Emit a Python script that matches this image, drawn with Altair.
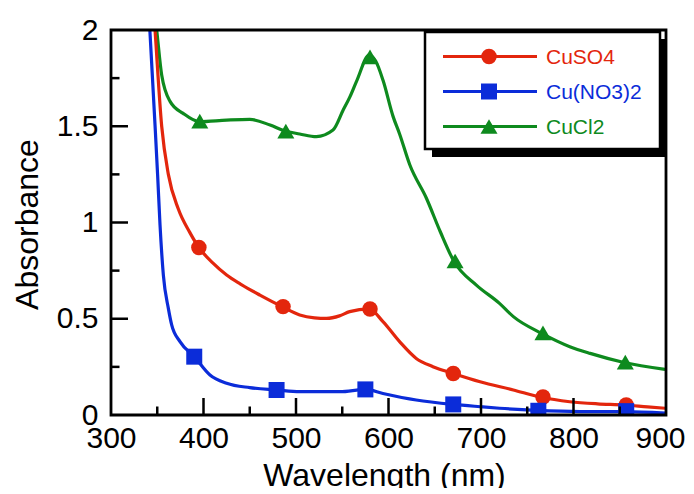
import altair as alt
import pandas as pd

# ---------------- data ----------------
series_names = ["CuSO4", "Cu(NO3)2", "CuCl2"]
series_colors = ["#E3260D", "#0B2CD9", "#0E8A1E"]
series_shapes = ["circle", "square", "triangle-up"]
series_sizes = [240, 256, 290]

# continuous spectra (wavelength nm, absorbance)
cuso4_wl = [345, 347.6, 354.8, 362, 372.8, 385, 395, 410, 425, 440, 461, 485, 504, 520,
            533, 547, 558, 579, 594, 612, 630, 648, 670, 699, 735, 765, 796, 826, 855, 880, 899]
cuso4_ab = [2.18, 2.0, 1.5, 1.25, 1.07, 0.95, 0.87, 0.79, 0.727, 0.68, 0.623, 0.563, 0.52, 0.505,
            0.502, 0.515, 0.537, 0.551, 0.485, 0.381, 0.294, 0.251, 0.216, 0.173, 0.13, 0.092,
            0.069, 0.058, 0.052, 0.042, 0.035]

no3_wl = [340, 342, 347.6, 350.4, 353, 356.6, 362, 365.6, 374.6, 390, 407, 425, 450, 479, 504,
          547.6, 575, 594, 630, 670, 699, 720, 760, 807, 855, 899]
no3_ab = [2.18, 2.0, 1.506, 1.247, 0.987, 0.727, 0.554, 0.468, 0.381, 0.303, 0.208, 0.165, 0.142,
          0.13, 0.121, 0.121, 0.133, 0.112, 0.078, 0.055, 0.043, 0.035, 0.024, 0.018, 0.018, 0.01]

cucl2_wl = [347, 349.4, 354.8, 364, 378, 395.5, 425, 450, 472, 488, 504, 522, 540, 551, 558,
            566, 579, 586, 594, 605, 612, 623, 641, 656, 671, 695, 720, 735, 765.6, 796, 818,
            854.6, 899]
cucl2_ab = [2.1, 2.0, 1.766, 1.628, 1.567, 1.524, 1.532, 1.536, 1.506, 1.475, 1.46, 1.446, 1.48,
            1.584, 1.65, 1.74, 1.87, 1.84, 1.74, 1.55, 1.46, 1.30, 1.126, 0.952, 0.796, 0.675,
            0.58, 0.511, 0.424, 0.355, 0.32, 0.273, 0.237]

# markers
cuso4_mk_wl = [395, 486, 580, 670, 767, 857]
cuso4_mk_ab = [0.87, 0.563, 0.551, 0.216, 0.094, 0.052]
no3_mk_wl = [390, 479, 575, 670, 762, 857]
no3_mk_ab = [0.303, 0.13, 0.133, 0.055, 0.022, 0.02]
cucl2_mk_wl = [396, 489, 580, 672, 767, 856]
cucl2_mk_ab = [1.527, 1.475, 1.86, 0.80, 0.426, 0.275]

x_major = [400, 500, 600, 700, 800]
x_minor = [350, 450, 550, 650, 750, 850]
y_major = [0.5, 1.0, 1.5]
y_minor = [0.25, 0.75, 1.25, 1.75]
x_labels = [300, 400, 500, 600, 700, 800, 900]
y_labels = [0, 0.5, 1, 1.5, 2]

# ---------------- chart ----------------
W, H = 555, 385
FONT = "Liberation Sans"

xscale = alt.Scale(domain=[300, 900], nice=False, zero=False)
yscale = alt.Scale(domain=[0, 2], nice=False, zero=False)

xaxis = alt.Axis(values=x_labels, format="d", ticks=False, grid=False, domain=False,
                 labelFontSize=30, labelColor="black", labelPadding=8, labelFlush=False,
                 labelOverlap=False, labelFont=FONT,
                 labelOffset={"condition": {"test": "datum.value == 900", "value": -6}, "value": 0},
                 title="Wavelength (nm)", titleFontSize=32, titleFontWeight="normal",
                 titleColor="black", titleFont=FONT, titleX=273, titleY=45,
                 titleBaseline="top", titleAlign="center")
yaxis = alt.Axis(values=y_labels, format="~g", ticks=False, grid=False, domain=False,
                 labelFontSize=30, labelColor="black", labelPadding=13, labelFlush=False,
                 labelOverlap=False, labelFont=FONT,
                 title="Absorbance", titleFontSize=32, titleFontWeight="normal",
                 titleColor="black", titleFont=FONT, titleAngle=270, titleX=-74, titleY=194,
                 titleBaseline="alphabetic", titleAlign="center")

X = lambda: alt.X("wl:Q", scale=xscale, axis=xaxis)
Y = lambda: alt.Y("ab:Q", scale=yscale, axis=yaxis)

lines_data = [(cuso4_wl, cuso4_ab), (no3_wl, no3_ab), (cucl2_wl, cucl2_ab)]
marks_data = [(cuso4_mk_wl, cuso4_mk_ab), (no3_mk_wl, no3_mk_ab), (cucl2_mk_wl, cucl2_mk_ab)]

one = pd.DataFrame({"a": [0]})
layers = []

order = [2, 0, 1]  # green, red, blue (blue on top)
for i in order:
    wl, ab = lines_data[i]
    layers.append(alt.Chart(pd.DataFrame({"wl": wl, "ab": ab}))
                  .mark_line(color=series_colors[i], strokeWidth=3.2, interpolate="monotone", clip=True)
                  .encode(x=X(), y=Y()))
for i in order:
    wl, ab = marks_data[i]
    layers.append(alt.Chart(pd.DataFrame({"wl": wl, "ab": ab}))
                  .mark_point(shape=series_shapes[i], filled=True, opacity=1,
                              size=series_sizes[i], color=series_colors[i], clip=True)
                  .encode(x=X(), y=Y()))

# inward ticks
layers.append(alt.Chart(pd.DataFrame({"wl": x_major})).mark_rule(color="black", strokeWidth=2.5)
              .encode(x=X(), y=alt.value(H), y2=alt.value(H - 17)))
layers.append(alt.Chart(pd.DataFrame({"wl": x_minor})).mark_rule(color="black", strokeWidth=2.5)
              .encode(x=X(), y=alt.value(H), y2=alt.value(H - 8.5)))
layers.append(alt.Chart(pd.DataFrame({"ab": y_major})).mark_rule(color="black", strokeWidth=2.5)
              .encode(y=Y(), x=alt.value(0), x2=alt.value(17)))
layers.append(alt.Chart(pd.DataFrame({"ab": y_minor})).mark_rule(color="black", strokeWidth=2.5)
              .encode(y=Y(), x=alt.value(0), x2=alt.value(8.5)))

# plot frame
layers.append(alt.Chart(one).mark_rect(fill="transparent", stroke="black", strokeWidth=2.8)
              .encode(x=alt.value(0), x2=alt.value(W), y=alt.value(0), y2=alt.value(H)))

# legend box with shadow
layers.append(alt.Chart(one).mark_rect(fill="black")
              .encode(x=alt.value(321), x2=alt.value(556), y=alt.value(9), y2=alt.value(127)))
layers.append(alt.Chart(one).mark_rect(fill="white", stroke="black", strokeWidth=2.5)
              .encode(x=alt.value(314), x2=alt.value(549), y=alt.value(2), y2=alt.value(119)))
for i, name in enumerate(series_names):
    y0 = 26.5 + 35 * i
    d = pd.DataFrame({"name": [name]})
    layers.append(alt.Chart(d).mark_rule(color=series_colors[i], strokeWidth=3)
                  .encode(x=alt.value(332), x2=alt.value(426), y=alt.value(y0)))
    layers.append(alt.Chart(d).mark_point(shape=series_shapes[i], filled=True, opacity=1,
                                          size=series_sizes[i], color=series_colors[i])
                  .encode(x=alt.value(378), y=alt.value(y0)))
    layers.append(alt.Chart(d).mark_text(align="left", baseline="middle", fontSize=21,
                                         font=FONT, color=series_colors[i])
                  .encode(x=alt.value(435), y=alt.value(y0 + 1), text="name:N"))

chart = (alt.layer(*layers)
         .properties(width=W, height=H,
                     autosize=alt.AutoSizeParams(type="none"),
                     padding={"left": 103, "top": 22, "right": 20, "bottom": 73})
         .configure_view(stroke="black", strokeWidth=2.5)
         .configure(font=FONT, background="white"))

chart.save("out.html", embed_options={"renderer": "svg", "actions": False})
